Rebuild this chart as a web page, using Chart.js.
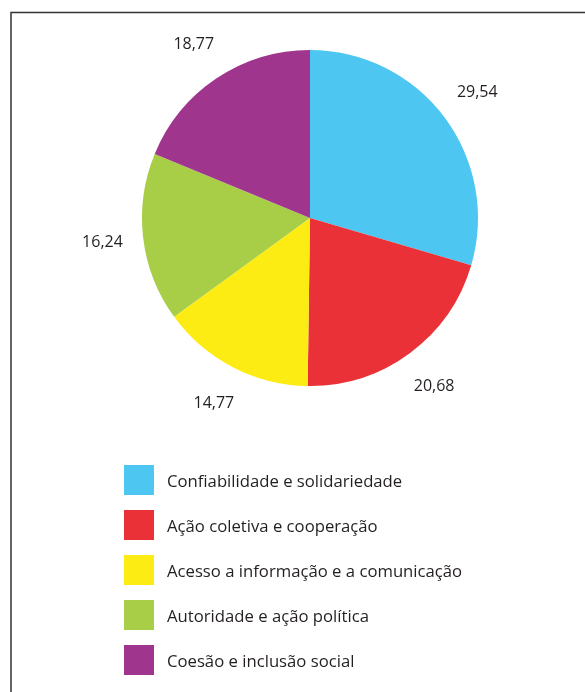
<!DOCTYPE html>
<html>
<head>
<meta charset="utf-8">
<script src="https://cdn.jsdelivr.net/npm/chart.js@4"></script>
<style>
  html, body { margin: 0; padding: 0; background: #fff; }
  canvas { display: block; }
</style>
</head>
<body>
<canvas id="pieChart" width="585" height="692"></canvas>
<script>
// categorias (sentido horário a partir do topo)
var categorias = [
  "Confiabilidade e solidariedade",
  "Ação coletiva e cooperação",
  "Acesso a informação e a comunicação",
  "Autoridade e ação política",
  "Coesão e inclusão social"
];
// valores (%)
var valores = [29.54, 20.68, 14.77, 16.24, 18.77];
var rotulos = ["29,54", "20,68", "14,77", "16,24", "18,77"];
var cores = ["#4dc6f2", "#e93137", "#fdeb14", "#a8ce47", "#a0358e"];

var fonteRotulo = "16px 'Open Sans', sans-serif";
var fonteLegenda = "16.7px 'Open Sans', sans-serif";
var corTexto = "#231f20";

// moldura (linha superior e esquerda)
var moldura = {
  id: 'moldura',
  beforeDraw: function(chart) {
    var c = chart.ctx;
    c.save();
    c.strokeStyle = "#333";
    c.lineWidth = 1.5;
    c.beginPath();
    c.moveTo(11, 692);
    c.lineTo(11, 12.5);
    c.lineTo(585, 12.5);
    c.stroke();
    c.restore();
  }
};

// rótulos dos valores fora das fatias
var rotulosFatias = {
  id: 'rotulosFatias',
  afterDatasetsDraw: function(chart) {
    var c = chart.ctx;
    var meta = chart.getDatasetMeta(0);
    c.save();
    c.font = fonteRotulo;
    c.fillStyle = corTexto;
    c.textAlign = "center";
    c.textBaseline = "middle";
    meta.data.forEach(function(arc, i) {
      var p = arc.getProps(['x', 'y', 'startAngle', 'endAngle', 'outerRadius'], true);
      var meio = (p.startAngle + p.endAngle) / 2;
      var r = p.outerRadius + 41;
      c.fillText(rotulos[i], p.x + Math.cos(meio) * r, p.y + Math.sin(meio) * r);
    });
    c.restore();
  }
};

// legenda vertical abaixo do gráfico
var legenda = {
  id: 'legenda',
  afterDraw: function(chart) {
    var c = chart.ctx;
    c.save();
    c.font = fonteLegenda;
    c.textBaseline = "middle";
    categorias.forEach(function(nome, i) {
      var y = 465 + i * 45;
      c.fillStyle = cores[i];
      c.fillRect(124, y, 30, 30);
      c.fillStyle = corTexto;
      c.fillText(nome, 167, y + 17);
    });
    c.restore();
  }
};

var ctx = document.getElementById("pieChart");
var myChart = new Chart(ctx, {
  type: 'pie',
  data: {
    labels: categorias,
    datasets: [{
      data: valores,
      backgroundColor: cores,
      borderWidth: 0
    }]
  },
  options: {
    responsive: false,
    animation: false,
    layout: {
      padding: { left: 142, right: 107, top: 50, bottom: 306 }
    },
    plugins: {
      legend: { display: false },
      tooltip: { enabled: false }
    }
  },
  plugins: [moldura, rotulosFatias, legenda]
});
</script>
</body>
</html>
